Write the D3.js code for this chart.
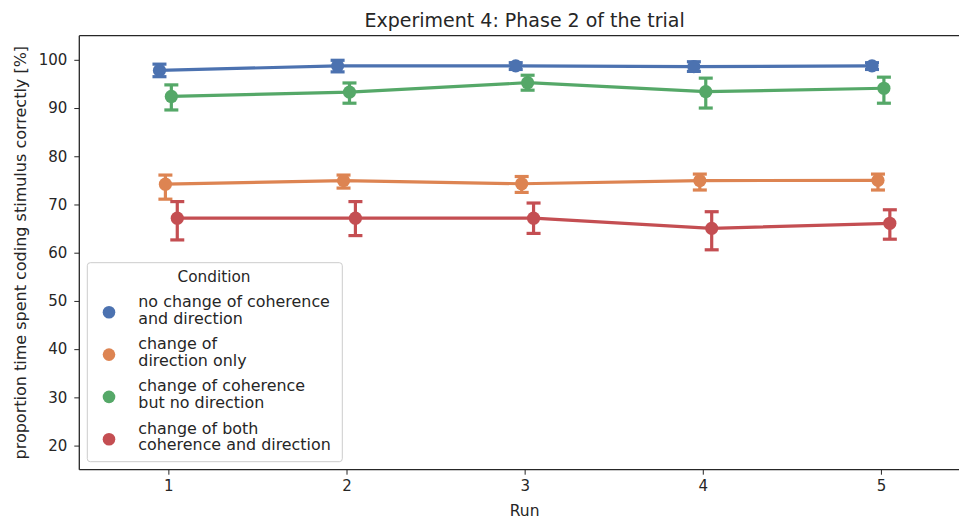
<!DOCTYPE html>
<html>
<head>
<meta charset="utf-8">
<script src="https://cdn.jsdelivr.net/npm/d3@7"></script>
<style>
  html, body { margin: 0; padding: 0; background: #fff; }
  svg { display: block; font-family: "DejaVu Sans", sans-serif; }
</style>
</head>
<body>
<svg id="chart" width="959" height="522"></svg>
<script>
// Runs on the x axis
const runs = ["1", "2", "3", "4", "5"];

// Conditions (hue levels) with their legend labels
const conditions = [
  ["no change of coherence", "and direction"],
  ["change of", "direction only"],
  ["change of coherence", "but no direction"],
  ["change of both", "coherence and direction"]
];
const colors = ["#4C72B0", "#DD8452", "#55A868", "#C44E52"];

// Mean proportion of time (%) per run, one array per condition
const noChangeMean   = [97.8, 98.75, 98.75, 98.6, 98.75];
const directionMean  = [74.2, 74.95, 74.3, 74.95, 75.0];
const coherenceMean  = [92.4, 93.3, 95.25, 93.4, 94.1];
const bothMean       = [67.15, 67.15, 67.15, 65.05, 66.1];

// 95% confidence interval bounds per run
const noChangeLow    = [96.5, 97.5, 98.0, 97.6, 98.0];
const noChangeHigh   = [99.1, 99.9, 99.4, 99.6, 99.4];
const directionLow   = [71.1, 73.4, 72.5, 73.0, 73.0];
const directionHigh  = [76.1, 76.1, 75.8, 76.3, 76.3];
const coherenceLow   = [89.6, 91.0, 93.7, 90.0, 91.0];
const coherenceHigh  = [94.8, 95.2, 96.8, 96.2, 96.4];
const bothLow        = [62.65, 63.55, 64.0, 60.6, 62.8];
const bothHigh       = [70.6, 70.6, 70.3, 68.5, 68.9];

const yTicks = [20, 30, 40, 50, 60, 70, 80, 90, 100];

const means = [noChangeMean, directionMean, coherenceMean, bothMean];
const lows  = [noChangeLow, directionLow, coherenceLow, bothLow];
const highs = [noChangeHigh, directionHigh, coherenceHigh, bothHigh];

const svg = d3.select("#chart");
const textColor = "#262626";

// Axes area (the right edge runs past the canvas)
const axLeft = 79.3, axRight = 970, axTop = 35.7, axBottom = 469.7;

const x = d3.scalePoint().domain(runs).range([axLeft, axRight]).padding(0.5);
const y = d3.scaleLinear().domain([15, 105]).range([axBottom, axTop]);

// Dodge offsets for the hue levels (total spread of 0.1 category widths)
const step = x.step();
const dodge = 0.1;
const offsets = conditions.map((_, i) => (i / (conditions.length - 1) - 0.5) * dodge * step);
const capHalf = 7;

const plot = svg.append("g");

conditions.forEach((cond, ci) => {
  const col = colors[ci];
  const pts = runs.map((r, i) => ({
    x: x(r) + offsets[ci],
    m: means[ci][i], lo: lows[ci][i], hi: highs[ci][i]
  }));
  const g = plot.append("g");

  // connecting line
  g.append("path")
    .datum(pts)
    .attr("fill", "none")
    .attr("stroke", col)
    .attr("stroke-width", 3.2)
    .attr("stroke-linejoin", "round")
    .attr("d", d3.line().x(d => d.x).y(d => y(d.m)));

  // confidence intervals with caps
  const eb = g.selectAll(".eb").data(pts).join("g")
    .attr("class", "eb")
    .attr("stroke", col).attr("stroke-width", 3.2);
  eb.append("line")
    .attr("x1", d => d.x).attr("x2", d => d.x)
    .attr("y1", d => y(d.lo)).attr("y2", d => y(d.hi));
  eb.append("line")
    .attr("x1", d => d.x - capHalf).attr("x2", d => d.x + capHalf)
    .attr("y1", d => y(d.lo)).attr("y2", d => y(d.lo));
  eb.append("line")
    .attr("x1", d => d.x - capHalf).attr("x2", d => d.x + capHalf)
    .attr("y1", d => y(d.hi)).attr("y2", d => y(d.hi));

  // point estimates
  g.selectAll("circle").data(pts).join("circle")
    .attr("cx", d => d.x).attr("cy", d => y(d.m))
    .attr("r", 6.6)
    .attr("fill", col);
});

// Axes
const xAxis = svg.append("g")
  .attr("transform", `translate(0,${axBottom})`)
  .call(d3.axisBottom(x).tickSize(5).tickPadding(6).tickSizeOuter(0));
const yAxis = svg.append("g")
  .attr("transform", `translate(${axLeft},0)`)
  .call(d3.axisLeft(y).tickValues(yTicks).tickSize(5).tickPadding(7).tickSizeOuter(0));

[xAxis, yAxis].forEach(a => {
  a.select(".domain").remove();
  a.selectAll(".tick line").attr("stroke", textColor).attr("stroke-width", 1);
  a.selectAll(".tick text")
    .attr("fill", textColor)
    .style("font-size", "15px")
    .style("font-family", "DejaVu Sans, sans-serif");
});

// Frame (spines)
const spine = svg.append("g").attr("stroke", textColor).attr("stroke-width", 1.3).attr("fill", "none");
spine.append("line").attr("x1", axLeft).attr("x2", axRight).attr("y1", axTop).attr("y2", axTop);
spine.append("line").attr("x1", axLeft).attr("x2", axRight).attr("y1", axBottom).attr("y2", axBottom);
spine.append("line").attr("x1", axLeft).attr("x2", axLeft).attr("y1", axTop).attr("y2", axBottom);
spine.append("line").attr("x1", axRight).attr("x2", axRight).attr("y1", axTop).attr("y2", axBottom);

// Title and axis labels
svg.append("text")
  .attr("x", (axLeft + axRight) / 2).attr("y", 26.5)
  .attr("text-anchor", "middle")
  .attr("fill", textColor)
  .style("font-size", "19px")
  .text("Experiment 4: Phase 2 of the trial");

svg.append("text")
  .attr("x", (axLeft + axRight) / 2).attr("y", 516)
  .attr("text-anchor", "middle")
  .attr("fill", textColor)
  .style("font-size", "15.5px")
  .text("Run");

svg.append("text")
  .attr("transform", `translate(26,${(axTop + axBottom) / 2}) rotate(-90)`)
  .attr("text-anchor", "middle")
  .attr("fill", textColor)
  .style("font-size", "16px")
  .text("proportion time spent coding stimulus correctly [%]");

// Legend
const leg = svg.append("g");
leg.append("rect")
  .attr("x", 87.3).attr("y", 262.7)
  .attr("width", 255).attr("height", 199)
  .attr("rx", 3)
  .attr("fill", "#fff").attr("fill-opacity", 0.8)
  .attr("stroke", "#cccccc").attr("stroke-width", 1);
leg.append("text")
  .attr("x", 214).attr("y", 282)
  .attr("text-anchor", "middle")
  .attr("fill", textColor)
  .style("font-size", "15.3px")
  .text("Condition");

conditions.forEach((cond, i) => {
  const cy = 312.3 + i * 42.3;
  leg.append("circle").attr("cx", 109).attr("cy", cy).attr("r", 6.3).attr("fill", colors[i]);
  const t = leg.append("text")
    .attr("fill", textColor)
    .style("font-size", "15.9px");
  cond.forEach((line, j) => {
    t.append("tspan")
      .attr("x", 138.3)
      .attr("y", cy - 5.5 + j * 16.7)
      .text(line);
  });
});
</script>
</body>
</html>
